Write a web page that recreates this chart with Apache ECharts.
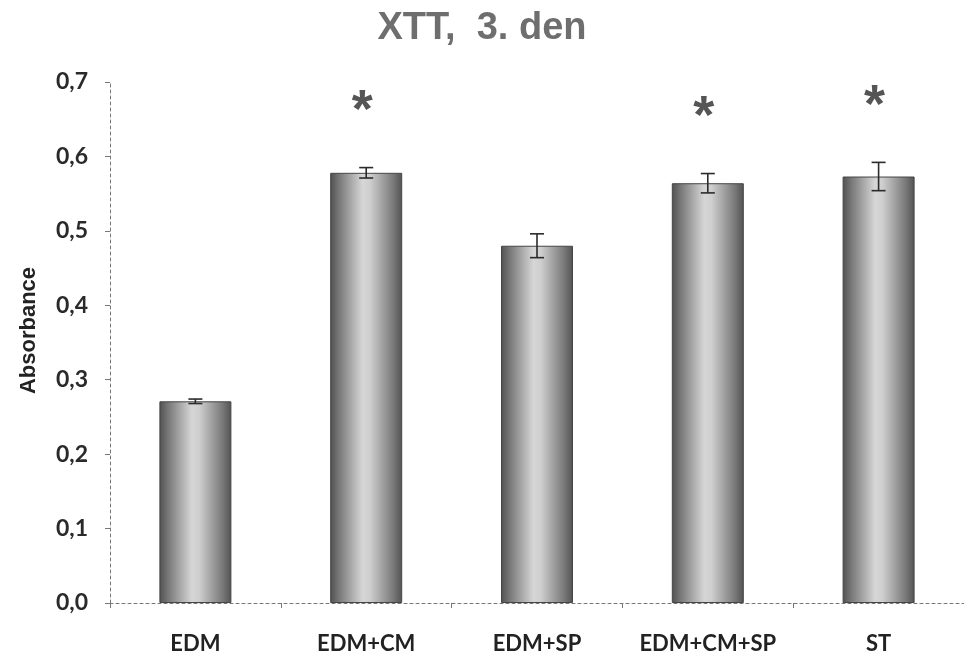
<!DOCTYPE html>
<html>
<head>
<meta charset="utf-8">
<title>XTT, 3. den</title>
<script src="https://cdn.jsdelivr.net/npm/echarts@6/dist/echarts.min.js"></script>
<style>
  html, body { margin: 0; padding: 0; background: #ffffff; }
  #chart { width: 964px; height: 661px; }
</style>
</head>
<body>
<div id="chart"></div>
<script>
// Groups on the category axis
const categories = ['EDM', 'EDM+CM', 'EDM+SP', 'EDM+CM+SP', 'ST'];
// Mean absorbance for each group
const absorbance = [0.271, 0.578, 0.480, 0.564, 0.573];
// Error (± half-length of each whisker)
const errors = [0.003, 0.007, 0.016, 0.013, 0.019];
// Significance markers drawn above the whiskers
const significant = ['', '*', '', '*', '*'];
// Value axis ticks
const yTicks = [0, 0.1, 0.2, 0.3, 0.4, 0.5, 0.6, 0.7];

const chart = echarts.init(document.getElementById('chart'), null, { renderer: 'canvas' });

const barGradient = new echarts.graphic.LinearGradient(0, 0, 1, 0, [
  { offset: 0, color: '#505050' },
  { offset: 0.12, color: '#777777' },
  { offset: 0.45, color: '#d6d6d6' },
  { offset: 0.55, color: '#cfcfcf' },
  { offset: 0.88, color: '#787878' },
  { offset: 1, color: '#525252' }
]);

const option = {
  backgroundColor: '#ffffff',
  animation: false,
  title: {
    text: 'XTT,  3. den',
    left: 'center',
    top: 5,
    textStyle: {
      fontFamily: 'Liberation Sans',
      fontWeight: 'bold',
      fontSize: 38,
      color: '#6e6e6e'
    }
  },
  grid: { left: 110, right: -11, top: 82, bottom: 58 },
  xAxis: {
    type: 'category',
    data: categories,
    axisLine: { lineStyle: { color: '#777777', width: 1, type: [3, 3] } },
    axisTick: { show: true, interval: 0, length: 5, lineStyle: { color: '#777777' } },
    axisLabel: {
      interval: 0,
      margin: 30,
      fontFamily: 'Lato',
      fontWeight: 'bold',
      fontSize: 22,
      color: '#222222'
    },
    splitLine: { show: false }
  },
  yAxis: {
    type: 'value',
    min: yTicks[0],
    max: yTicks[yTicks.length - 1],
    interval: 0.1,
    name: 'Absorbance',
    nameLocation: 'middle',
    nameGap: 70,
    nameTextStyle: {
      fontFamily: 'Liberation Sans',
      fontWeight: 'bold',
      fontSize: 22,
      color: '#222222',
      padding: [0, 0, 0, 24]
    },
    axisLine: { show: true, lineStyle: { color: '#777777', width: 1, type: [3, 3] } },
    axisTick: { show: true, length: 5, lineStyle: { color: '#777777' } },
    axisLabel: {
      margin: 22,
      fontFamily: 'Lato',
      fontWeight: 'bold',
      fontSize: 23,
      color: '#2a2a2a',
      formatter: v => v.toFixed(1).replace('.', ',')
    },
    splitLine: { show: false }
  },
  series: [
    {
      type: 'bar',
      data: absorbance,
      barWidth: 72,
      itemStyle: {
        color: barGradient,
        borderColor: '#454545',
        borderWidth: 1
      }
    },
    {
      type: 'custom',
      z: 5,
      data: categories.map((c, i) => [i, absorbance[i], errors[i]]),
      encode: { x: 0, y: 1 },
      renderItem: function (params, api) {
        const idx = api.value(0);
        const val = api.value(1);
        const err = api.value(2);
        const hi = api.coord([idx, val + err]);
        const lo = api.coord([idx, val - err]);
        const cap = 7;
        const stroke = { stroke: '#2b2b2b', lineWidth: 1.6 };
        const children = [
          { type: 'line', shape: { x1: hi[0], y1: hi[1], x2: lo[0], y2: lo[1] }, style: stroke },
          { type: 'line', shape: { x1: hi[0] - cap, y1: hi[1], x2: hi[0] + cap, y2: hi[1] }, style: stroke },
          { type: 'line', shape: { x1: lo[0] - cap, y1: lo[1], x2: lo[0] + cap, y2: lo[1] }, style: stroke }
        ];
        const mark = significant[params.dataIndex];
        if (mark) {
          children.push({
            type: 'text',
            x: hi[0] - 4,
            y: hi[1] - 55,
            style: {
              text: mark,
              fill: '#555555',
              font: 'bold 54px "Liberation Sans"',
              align: 'center',
              verticalAlign: 'middle'
            }
          });
        }
        return { type: 'group', children: children };
      }
    }
  ]
};

chart.setOption(option);
</script>
</body>
</html>
